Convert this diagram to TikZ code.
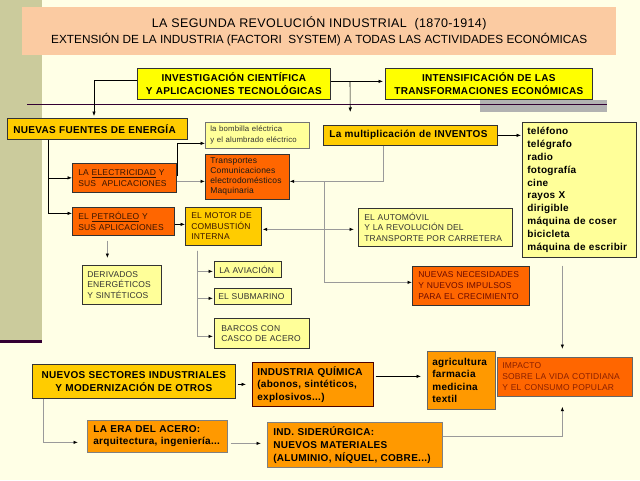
\documentclass[tikz,border=0pt]{standalone}
\usepackage{fontspec}
\setmainfont{Liberation Sans}
\newfontfamily\spcf[LetterSpace=2]{Liberation Sans}
\newfontfamily\bspc[LetterSpace=3]{Liberation Sans}
\newfontfamily\ttlf[LetterSpace=3]{Liberation Sans}
\usetikzlibrary{arrows.meta}
\definecolor{bgc}{HTML}{FFFFE6}
\definecolor{stripc}{HTML}{CBCB9C}
\definecolor{titc}{HTML}{FBCBA2}
\definecolor{yel}{HTML}{FFFF00}
\definecolor{gold}{HTML}{FFCC00}
\definecolor{ored}{HTML}{FF6600}
\definecolor{orng}{HTML}{FF9900}
\definecolor{lyel}{HTML}{FFFF99}
\definecolor{purp}{HTML}{330033}
\definecolor{shad}{HTML}{B2B2B2}
\definecolor{gln}{HTML}{9A9A9A}
\definecolor{brn}{HTML}{3A1500}
\definecolor{dred}{HTML}{6B0A00}
\definecolor{rbrn}{HTML}{8A2000}
\definecolor{dgr}{HTML}{333333}
\begin{document}
\begin{tikzpicture}[x=1pt,y=-1pt,
  bx/.style={draw=black!80, line width=0.7pt, inner ysep=0pt, anchor=north west, align=left},
  bfs/.style 2 args={font=\fontsize{#1}{#2}\bspc\bfseries},
  sps/.style 2 args={font=\fontsize{#1}{#2}\spcf},
  ar/.style={-{Latex[length=4.5pt,width=3.5pt,color=black]}},
  lk/.style={draw=black, line width=0.6pt},
  lg/.style={draw=gln, line width=0.8pt}
]
% background
\fill[bgc] (0,0) rectangle (640,480);
\useasboundingbox (0,0) rectangle (640,480);
\fill[stripc] (0,0) rectangle (42,341);
\fill[purp] (0,340) rectangle (42,343);
\fill[shad] (480,100) rectangle (607,112);
\draw[purp, line width=1pt] (27,104) -- (607,104);

% title
\node[anchor=north west, fill=titc, minimum width=594pt, minimum height=48pt, inner sep=0pt, align=center, text=black, font=\fontsize{11.8}{16}\selectfont] (title) at (22,7)
 {{\fontsize{12.5}{16}\ttlf LA SEGUNDA REVOLUCIÓN INDUSTRIAL\ \ (1870-1914)}\\EXTENSIÓN DE LA INDUSTRIA (FACTORI\ \ SYSTEM) A TODAS LAS ACTIVIDADES ECONÓMICAS};

% top boxes
\node[bx, fill=yel, align=center, bfs={10}{13.5}, inner xsep=4pt, text width=185pt, minimum height=31pt] (inv) at (137,68) {INVESTIGACIÓN CIENTÍFICA\\Y APLICACIONES TECNOLÓGICAS};
\node[bx, fill=yel, align=center, bfs={10}{13.5}, inner xsep=4pt, text width=199pt, minimum height=31pt] (intens) at (385,68) {INTENSIFICACIÓN DE LAS\\TRANSFORMACIONES ECONÓMICAS};

\node[bx, fill=gold, bfs={10}{12}, inner xsep=6pt, text width=168pt, minimum height=21pt] (nfe) at (7,118) {NUEVAS FUENTES DE ENERGÍA};
\node[bx, fill=ored, text=brn, sps={8.5}{11}, inner xsep=6pt, text width=92pt, minimum height=29pt] (elec) at (72,163) {LA \underline{ELECTRICIDAD} Y\\SUS\ \ APLICACIONES};
\node[bx, fill=ored, text=brn, sps={8.5}{10.5}, inner xsep=6pt, text width=90pt, minimum height=28pt] (petro) at (72,207) {EL \underline{PETRÓLEO} Y\\SUS APLICACIONES};
\node[bx, fill=lyel, draw=black!55, text=dgr, sps={7.8}{11}, inner xsep=5pt, text width=94pt, minimum height=26pt] (bomb) at (205,122) {la bombilla eléctrica\\y el alumbrado eléctrico};
\node[bx, fill=ored, text=black!90, sps={8.5}{10}, inner xsep=5pt, text width=74pt, minimum height=45pt] (transp) at (205,154) {Transportes\\Comunicaciones\\electrodomésticos\\Maquinaria};
\node[bx, fill=gold, text=brn, sps={8.5}{10.5}, inner xsep=6pt, text width=64pt, minimum height=38pt] (motor) at (185,207) {EL MOTOR DE\\COMBUSTIÓN\\INTERNA};
\node[bx, fill=lyel, text=dgr, sps={8.5}{10.5}, inner xsep=5pt, text width=69pt, minimum height=39pt] (deriv) at (82,265) {DERIVADOS\\ENERGÉTICOS\\Y SINTÉTICOS};
\node[bx, fill=lyel, text=dgr, sps={8.5}{10}, inner xsep=5pt, text width=57pt, minimum height=16pt] (aviac) at (214,261) {LA AVIACIÓN};
\node[bx, fill=lyel, text=dgr, sps={8.5}{10}, inner xsep=4pt, text width=69pt, minimum height=16pt] (subm) at (214,288) {EL SUBMARINO};
\node[bx, fill=lyel, text=dgr, sps={8.5}{10.5}, inner xsep=7pt, text width=81pt, minimum height=30pt] (barcos) at (214,318) {BARCOS CON\\CASCO DE ACERO};

\node[bx, fill=gold, bfs={10}{12}, inner xsep=6pt, text width=162pt, minimum height=20pt] (mult) at (323,125) {La multiplicación de INVENTOS};
\node[bx, fill=lyel, bfs={10}{12.8}, inner xsep=5pt, text width=104pt, minimum height=135pt] (list) at (522,122) {teléfono\\telégrafo\\radio\\fotografía\\cine\\rayos X\\dirigible\\máquina de coser\\bicicleta\\máquina de escribir};
\node[bx, fill=lyel, text=dgr, sps={8.5}{10.5}, inner xsep=6pt, text width=142pt, minimum height=38pt] (auto) at (358,208) {EL AUTOMÓVIL\\Y LA REVOLUCIÓN DEL\\TRANSPORTE POR CARRETERA};
\node[bx, fill=ored, text=dred, sps={8.5}{11}, inner xsep=6pt, text width=105pt, minimum height=39pt] (neces) at (412,266) {NUEVAS NECESIDADES\\Y NUEVOS IMPULSOS\\PARA EL CRECIMIENTO};

% bottom
\node[bx, fill=gold, align=center, bfs={10}{13}, inner xsep=4pt, text width=195pt, minimum height=34pt] (sect) at (32,364) {NUEVOS SECTORES INDUSTRIALES\\Y MODERNIZACIÓN DE OTROS};
\node[bx, fill=orng, draw=black!70!red, bfs={10}{12.5}, inner xsep=5pt, text width=111pt, minimum height=44pt] (quim) at (252,362) {INDUSTRIA QUÍMICA\\(abonos, sintéticos,\\explosivos...)};
\node[bx, fill=orng, draw=black!50, bfs={10}{12}, inner xsep=6pt, text width=128pt, minimum height=32pt] (acero) at (87,420) {LA ERA DEL ACERO:\\arquitectura, ingeniería...};
\node[bx, fill=orng, draw=black!50, bfs={10}{13}, inner xsep=6pt, text width=163pt, minimum height=45pt] (sider) at (267,422) {IND. SIDERÚRGICA:\\NUEVOS MATERIALES\\(ALUMINIO, NÍQUEL, COBRE...)};
\node[bx, fill=orng, draw=black!60, bfs={10}{12.4}, inner xsep=5pt, text width=58pt, minimum height=58pt] (agri) at (427,351) {agricultura\\farmacia\\medicina\\textil};
\node[bx, fill=ored, draw=black!60, text=rbrn, sps={8.5}{11}, inner xsep=5pt, text width=125pt, minimum height=39pt] (impacto) at (497,357) {IMPACTO\\SOBRE LA VIDA COTIDIANA\\Y EL CONSUMO POPULAR};

% connectors
\draw[lk,ar,shorten >=2pt] ([yshift=3.5pt]inv.west) -| ([xshift=87pt]nfe.north west);
\draw[lk,ar,shorten >=2pt] ([yshift=2.5pt]inv.east) -- ([yshift=2.5pt]intens.west);
\coordinate (m1) at (350,81);
\draw[lk,ar,shorten >=13pt] (m1) -- ([xshift=-60pt]mult.north);

\draw[lk,ar] ([xshift=41pt]nfe.south west) |- (elec.west);
\draw[lk,ar] ([xshift=41pt]nfe.south west) |- ([yshift=8pt]petro.west);
\draw[lk,ar] ([xshift=1pt,yshift=2pt]elec.east) |- ([yshift=-8pt]bomb.west);
\draw[lg,ar] ([yshift=-3.5pt]elec.east) -- ([yshift=-3.5pt]elec.east -| transp.west);
\draw[lg,ar] ([xshift=-27pt]mult.south) |- ([yshift=-4.5pt]transp.east);
\coordinate (j1) at (324,181);
\draw[lg,ar] (j1) |- ([yshift=3.5pt]neces.west);
\draw[lg,{Latex[length=4.5pt,width=3.5pt,color=black]}-{Latex[length=4.5pt,width=3.5pt,color=black]},shorten <=1pt,shorten >=4pt] ([yshift=-3pt]motor.east) -- ([yshift=-3pt]motor.east -| auto.west);
\draw[lk,ar] ([yshift=-3pt]petro.east) -- ([yshift=-3pt]petro.east -| motor.west);
\draw[lg,ar,shorten >=7pt] ([xshift=-16pt,yshift=-5pt]petro.south) -- ([xshift=-16pt]petro.south |- deriv.north);
\draw[lg,ar,shorten >=1pt] ([xshift=-26pt,yshift=-5pt]motor.south) |- ([yshift=-2pt]aviac.west);
\draw[lg,ar,shorten >=1pt] ([xshift=-26pt,yshift=-5pt]motor.south) |- ([yshift=-2pt]subm.west);
\draw[lg,ar,shorten >=1pt] ([xshift=-26pt,yshift=-5pt]motor.south) |- ([yshift=-3pt]barcos.west);
\draw[lk,ar,shorten >=1pt] (mult.east) -- (mult.east -| list.west);
\draw[lg,ar,shorten >=8pt] ([xshift=-17pt,yshift=-8pt]list.south) -- ([xshift=-17pt]list.south |- impacto.north);

\draw[lk,ar,shorten <=2pt,shorten >=6pt] (sect.east |- quim.west) -- (quim.west);
\draw[lg,ar,shorten >=9pt] ([xshift=11pt]sect.south west) |- ([yshift=-6pt]acero.west);
\draw[lg,ar,shorten <=3pt,shorten >=6pt] ([yshift=-7pt]acero.east) -- ([yshift=-7pt]acero.east -| sider.west);
\draw[lg,ar,shorten >=10pt] ([yshift=8.5pt]sider.east) -| ([xshift=-2.5pt]impacto.south);
\draw[lk,ar,shorten <=2pt,shorten >=6pt] ([yshift=8pt]quim.east) -- ([yshift=8pt]quim.east -| agri.west);
\end{tikzpicture}
\end{document}
